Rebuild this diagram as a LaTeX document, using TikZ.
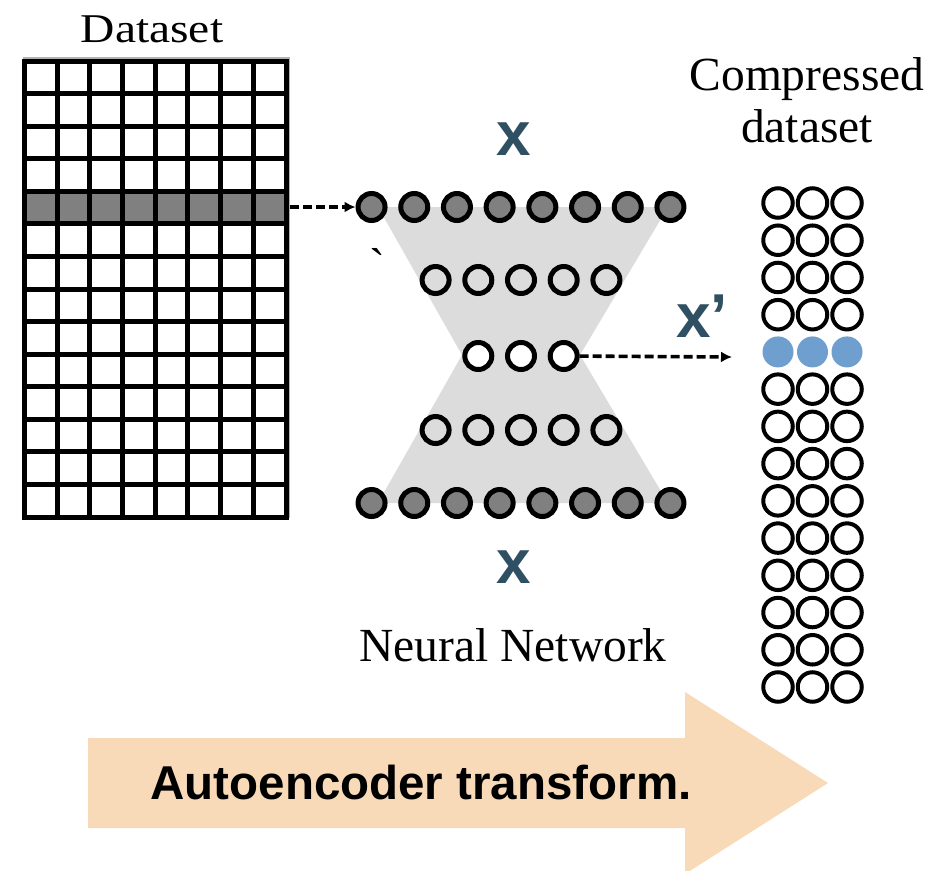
\documentclass[tikz,border=0pt]{standalone}
\usepackage{fontspec}
\setmainfont{Liberation Serif}
\newfontfamily\sansb{Liberation Sans}
\newfontfamily\rawserif{Liberation Serif}[Ligatures=TeXOff]
\usetikzlibrary{arrows.meta}
\definecolor{xcol}{HTML}{2F4F62}
\definecolor{peach}{HTML}{F9DAB8}
\definecolor{hgray}{HTML}{DCDCDC}
\definecolor{nodegray}{HTML}{808080}
\definecolor{cblue}{HTML}{6F9FCF}
\begin{document}
\begin{tikzpicture}[x=1pt,y=-1pt,
  gridline/.style={line width=5pt,black},
  nnfull/.style={circle,draw=black,line width=5pt,fill=nodegray,minimum size=27pt,inner sep=0pt},
  nnlight/.style={circle,draw=black,line width=5pt,fill=hgray,minimum size=27pt,inner sep=0pt},
  nnwhite/.style={circle,draw=black,line width=5pt,fill=white,minimum size=27pt,inner sep=0pt},
  cc/.style={circle,draw=black,line width=4pt,minimum size=29.5pt,inner sep=0pt},
  cb/.style={circle,fill=cblue,minimum size=31pt,inner sep=0pt},
  dasharrow/.style={line width=3.6pt,dash pattern=on 9pt off 4pt,-{Latex[length=11pt,width=11pt]}},
  serifl/.style={font=\fontsize{47.5}{52}\selectfont,inner sep=0pt,anchor=base},
  xlab/.style={font=\sansb\bfseries\fontsize{62}{64}\selectfont,text=xcol,inner sep=0pt,anchor=base}
]
\useasboundingbox (0,0) rectangle (942,870);
\fill[white] (0,0) rectangle (942,870);

% big arrow
\fill[peach] (88,738) -- (685,738) -- (685,692) -- (828,783) -- (685,874) -- (685,828) -- (88,828) -- cycle;
\node[font=\sansb\bfseries\fontsize{47.5}{50}\selectfont,inner sep=0pt,anchor=base] (autoenc) at (421,799) {Autoencoder transform.};

% dataset grid
\node[serifl] (dstitle) at (152,42) {\scalebox{1}[0.86]{Dataset}};
\draw[line width=2pt,gray!60] (23,58) -- (289,58) -- (289,518);
\fill[nodegray] (24.5,{61+4*32.571}) rectangle (286,{61+5*32.571});
\foreach \i in {0,...,8} \draw[gridline] ({24.5+\i*32.6875},61) -- ({24.5+\i*32.6875},517);
\foreach \j in {0,...,14} \draw[gridline] (22,{61+\j*32.571}) -- (288.5,{61+\j*32.571});
\coordinate (gridR) at (290,207);

% hourglass
\fill[hgray] (378,207) -- (668,207) -- (580,355) -- (668,503) -- (378,503) -- (462,355) -- cycle;

% network nodes
\foreach \k in {1,...,8} \node[nnfull] (a\k) at ({521+(\k-4.5)*42.7},207) {};
\foreach \k in {1,...,5} \node[nnlight] (b\k) at ({521+(\k-3)*42.7},280) {};
\foreach \k in {1,...,3} \node[nnwhite] (c\k) at ({521+(\k-2)*42.7},356) {};
\foreach \k in {1,...,5} \node[nnlight] (d\k) at ({521+(\k-3)*42.7},430) {};
\foreach \k in {1,...,8} \node[nnfull] (e\k) at ({521+(\k-4.5)*42.7},503) {};

\node[inner sep=0pt,anchor=base,font=\rawserif\fontsize{47.5}{50}\selectfont] (tick) at (377,281) {\char"60};

\node[xlab] (xtop) at (513.5,155) {x};
\node[xlab] (xbot) at (513.5,583) {x};
\node[xlab,anchor=base west] (xprime) at (676,337) {x’};

\node[serifl] (nnlabel) at (513,661) {Neural Network};

% compressed dataset
\node[serifl] (cmp1) at (807,90) {Compressed};
\node[serifl] (cmp2) at (807,142) {dataset};
\foreach \r in {1,...,14} {
  \foreach \c in {1,2,3} {
    \ifnum\r=5
      \node[cb] (z\r-\c) at ({778+(\c-1)*34.5},{203+(\r-1)*37.23}) {};
    \else
      \node[cc] (z\r-\c) at ({778+(\c-1)*34.5},{203+(\r-1)*37.23}) {};
    \fi
  }
}
\coordinate (outTip) at (732,357);

% connectors
\draw[dasharrow] (gridR) -- (a1);
\draw[dasharrow] (c3) -- (outTip);
\end{tikzpicture}
\end{document}
